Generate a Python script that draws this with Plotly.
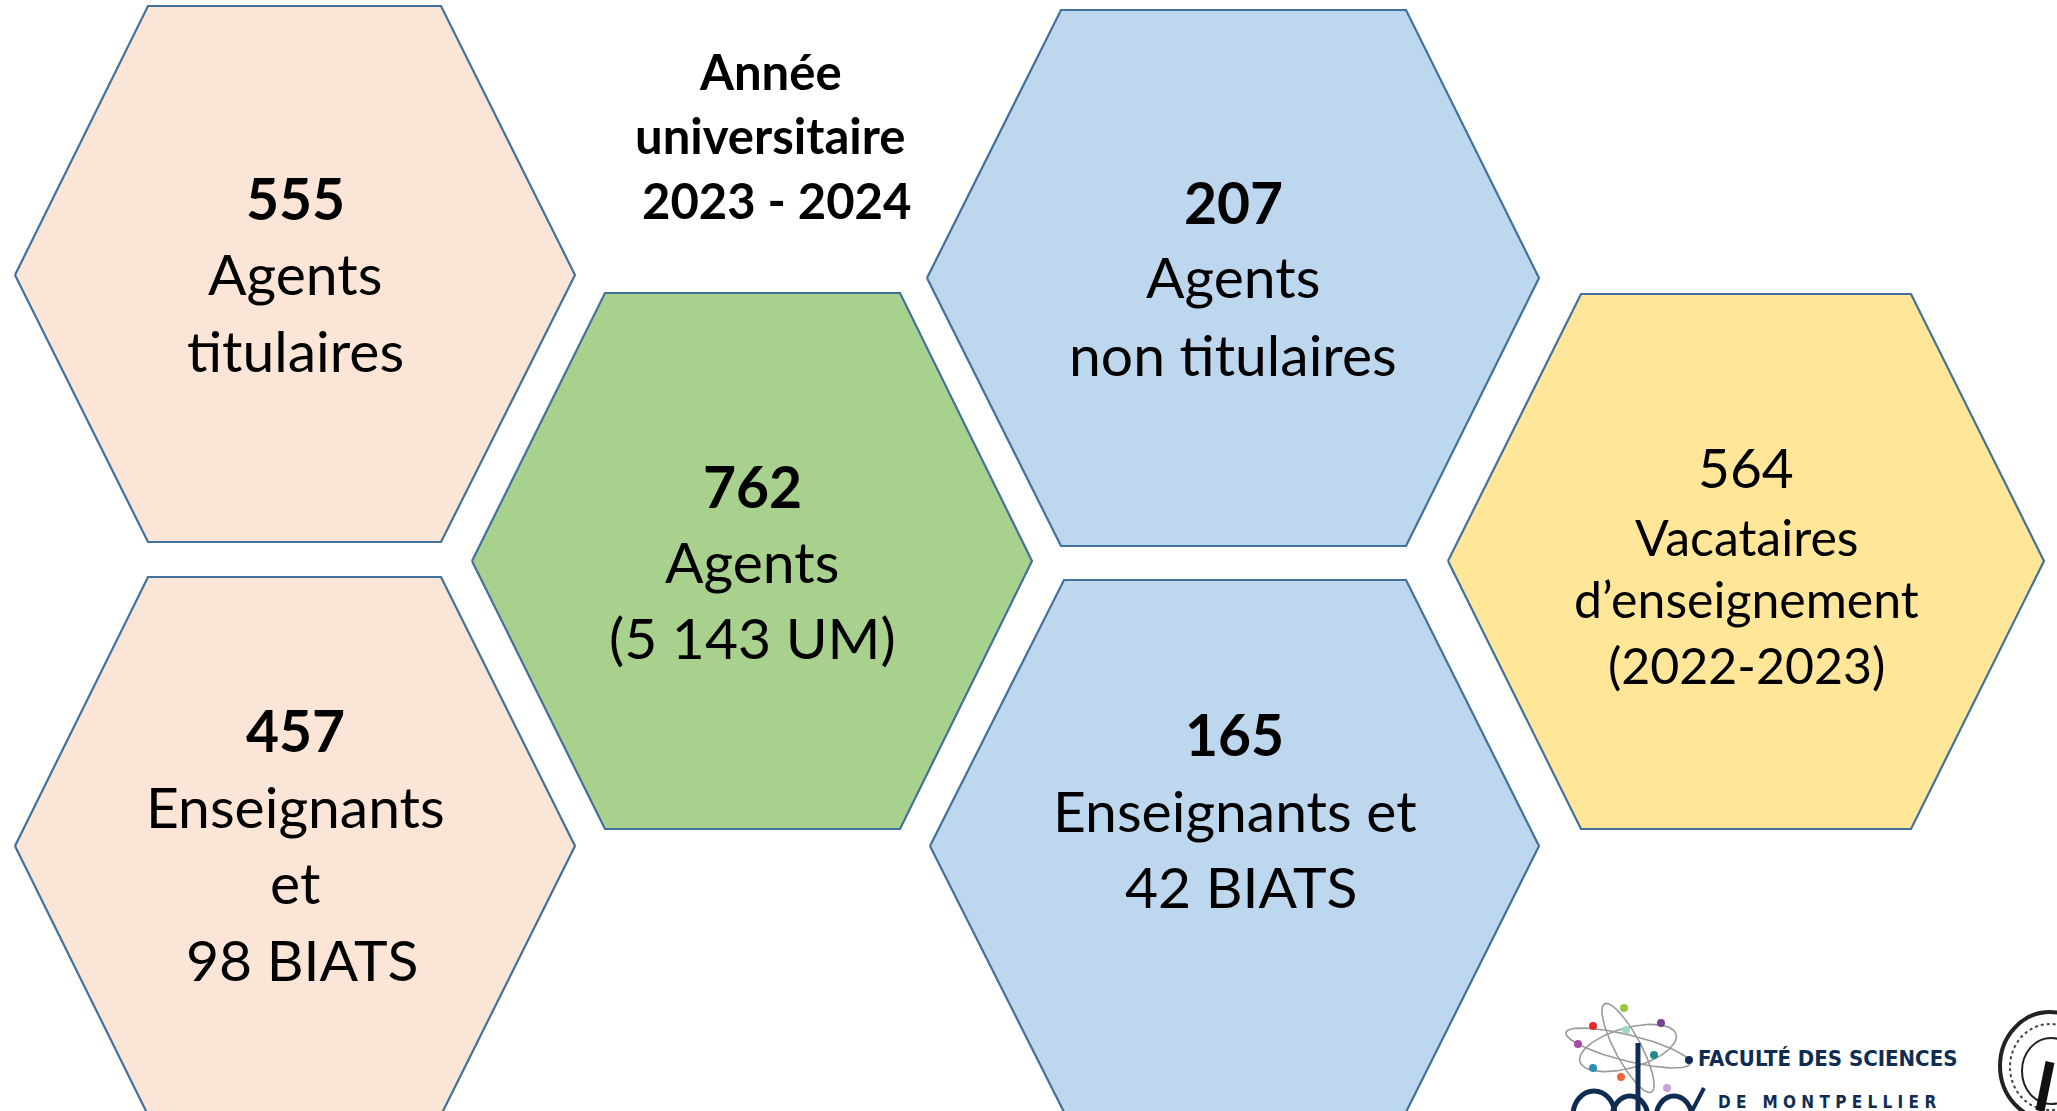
import numpy as np
import plotly.graph_objects as go

W, H = 2057, 1111

# ---------------- data ----------------
values = [555, 457, 762, 207, 165, 564]
value_bold = [True, True, True, True, True, False]
labels = [
    ["Agents", "titulaires"],
    ["Enseignants", "et", "98 BIATS"],
    ["Agents", "(5 143 UM)"],
    ["Agents", "non titulaires"],
    ["Enseignants et", "42 BIATS"],
    ["Vacataires", "d’enseignement", "(2022-2023)"],
]
fill_colors = ["#FBE5D6", "#FBE5D6", "#A9D18E", "#BDD7EE", "#BDD7EE", "#FFE699"]
title_lines = ["Année", "universitaire", "2023 - 2024"]
logo_lines = ["FACULTÉ DES SCIENCES", "DE MONTPELLIER"]

# ---------------- layout geometry (pixels) ----------------
# hexagon: left x, top-left x, top-right x, right x, top y, mid y, bottom y
hex_geom = [
    (15, 148, 441, 575, 6, 275, 542),
    (15, 148, 441, 575, 577, 846, 1115),
    (472, 605, 900, 1032, 293, 561, 829),
    (927, 1061, 1406, 1539, 10, 278, 546),
    (930, 1064, 1406, 1539, 580, 846, 1112),
    (1448, 1581, 1911, 2044, 294, 561, 829),
]
# text line centres (x per line, y per line): first line = value
text_x = [
    [295, 295, 295],
    [295, 295, 295, 302],
    [752, 752, 752],
    [1233, 1233, 1233],
    [1234, 1235, 1241],
    [1746, 1746, 1746, 1746],
]
text_y = [
    [198, 273, 350],
    [730, 806, 882, 959],
    [486, 561, 637],
    [202, 276, 354],
    [734, 810, 886],
    [467, 537, 599, 665],
]
value_size = [57, 57, 57, 57, 57, 55]
label_size = [57, 57, 57, 57, 57, 50]
title_x = [770, 770, 776]
title_y = [71, 135, 200]

FONT = "Lato, Carlito, 'Open Sans', sans-serif"
LOGO_FONT = "'Liberation Sans Narrow', 'DejaVu Sans Condensed', sans-serif"
OUTLINE = "#41719C"
NAVY = "#0F2D52"

fig = go.Figure()

for (lx, tlx, trx, rx, ty, my, by), col in zip(hex_geom, fill_colors):
    xs = [lx, tlx, trx, rx, trx, tlx, lx]
    ys = [my, ty, ty, my, by, by, my]
    fig.add_trace(go.Scatter(
        x=xs, y=ys, mode="lines", fill="toself", fillcolor=col,
        line=dict(color=OUTLINE, width=2.2), hoverinfo="skip", showlegend=False))

annotations = []
for i, v in enumerate(values):
    vtxt = f"<b>{v}</b>" if value_bold[i] else str(v)
    lines = [vtxt] + labels[i]
    for j, t in enumerate(lines):
        size = value_size[i] if j == 0 else label_size[i]
        annotations.append(dict(
            x=text_x[i][j], y=text_y[i][j], text=t, showarrow=False,
            xref="x", yref="y", xanchor="center", yanchor="middle",
            font=dict(family=FONT, size=size, color="#000000")))

for t, x, y in zip(title_lines, title_x, title_y):
    annotations.append(dict(
        x=x, y=y, text=f"<b>{t}</b>", showarrow=False, xref="x", yref="y",
        xanchor="center", yanchor="middle",
        font=dict(family=FONT, size=49, color="#000000")))

# ---------------- logo (decorative) ----------------
annotations.append(dict(
    x=1827, y=1058, text=f"<b>{logo_lines[0]}</b>", showarrow=False,
    xref="x", yref="y", xanchor="center", yanchor="middle",
    font=dict(family=LOGO_FONT, size=22, color=NAVY)))
annotations.append(dict(
    x=1827, y=1090, text="<b>" + " ".join(logo_lines[1]) + "</b>", showarrow=False,
    xref="x", yref="y", xanchor="center", yanchor="top",
    font=dict(family=LOGO_FONT, size=17, color=NAVY)))

# atom orbits
cx, cy = 1628, 1048
t = np.linspace(0, 2 * np.pi, 120)
for a, b, ang in [(64, 13, 14), (50, 13, 62), (50, 20, -16)]:
    th = np.radians(ang)
    ex = cx + a * np.cos(t) * np.cos(th) - b * np.sin(t) * np.sin(th)
    ey = cy + a * np.cos(t) * np.sin(th) + b * np.sin(t) * np.cos(th)
    fig.add_trace(go.Scatter(x=ex, y=ey, mode="lines",
                             line=dict(color="#9A9A9A", width=1.6),
                             hoverinfo="skip", showlegend=False))
dot_x = [1624, 1593, 1661, 1626, 1578, 1654, 1689, 1593, 1621, 1667]
dot_y = [1008, 1026, 1023, 1030, 1044, 1055, 1060, 1068, 1077, 1088]
dot_c = ["#9BC53D", "#E3262B", "#7B3F8C", "#9FD8C8", "#A64CA6", "#1E8A8A",
         "#0F2D52", "#2A8FB0", "#F0643C", "#C8A2D8"]
fig.add_trace(go.Scatter(x=dot_x, y=dot_y, mode="markers",
                         marker=dict(color=dot_c, size=8, line=dict(width=0)),
                         hoverinfo="skip", showlegend=False))

shapes = [
    # 'd' stem and bowls of the "Cdc" monogram (cut by the bottom edge)
    dict(type="line", x0=1638, y0=1043, x1=1638, y1=1115, line=dict(color=NAVY, width=5)),
    dict(type="circle", x0=1573, y0=1091, x1=1615, y1=1140, line=dict(color=NAVY, width=5)),
    dict(type="circle", x0=1612, y0=1096, x1=1648, y1=1140, line=dict(color=NAVY, width=5)),
    dict(type="circle", x0=1656, y0=1096, x1=1692, y1=1140, line=dict(color=NAVY, width=5)),
    dict(type="line", x0=1692, y0=1111, x1=1704, y1=1088, line=dict(color=NAVY, width=4)),
    # university seal
    dict(type="circle", x0=2000, y0=1012, x1=2100, y1=1120, line=dict(color="#222222", width=4)),
    dict(type="circle", x0=2010, y0=1024, x1=2090, y1=1110, line=dict(color="#444444", width=2, dash="dot")),
    dict(type="circle", x0=2022, y0=1038, x1=2080, y1=1104, line=dict(color="#222222", width=2)),
    dict(type="line", x0=2050, y0=1062, x1=2040, y1=1111, line=dict(color="#111111", width=9)),
]

fig.update_layout(
    width=W, height=H,
    margin=dict(l=0, r=0, t=0, b=0),
    paper_bgcolor="#FFFFFF", plot_bgcolor="#FFFFFF",
    xaxis=dict(range=[0, W], visible=False, fixedrange=True),
    yaxis=dict(range=[H, 0], visible=False, fixedrange=True),
    annotations=annotations, shapes=shapes, showlegend=False,
)

fig.write_html("out.html", config={"displayModeBar": False},
               post_script="document.body.style.margin='0';")
